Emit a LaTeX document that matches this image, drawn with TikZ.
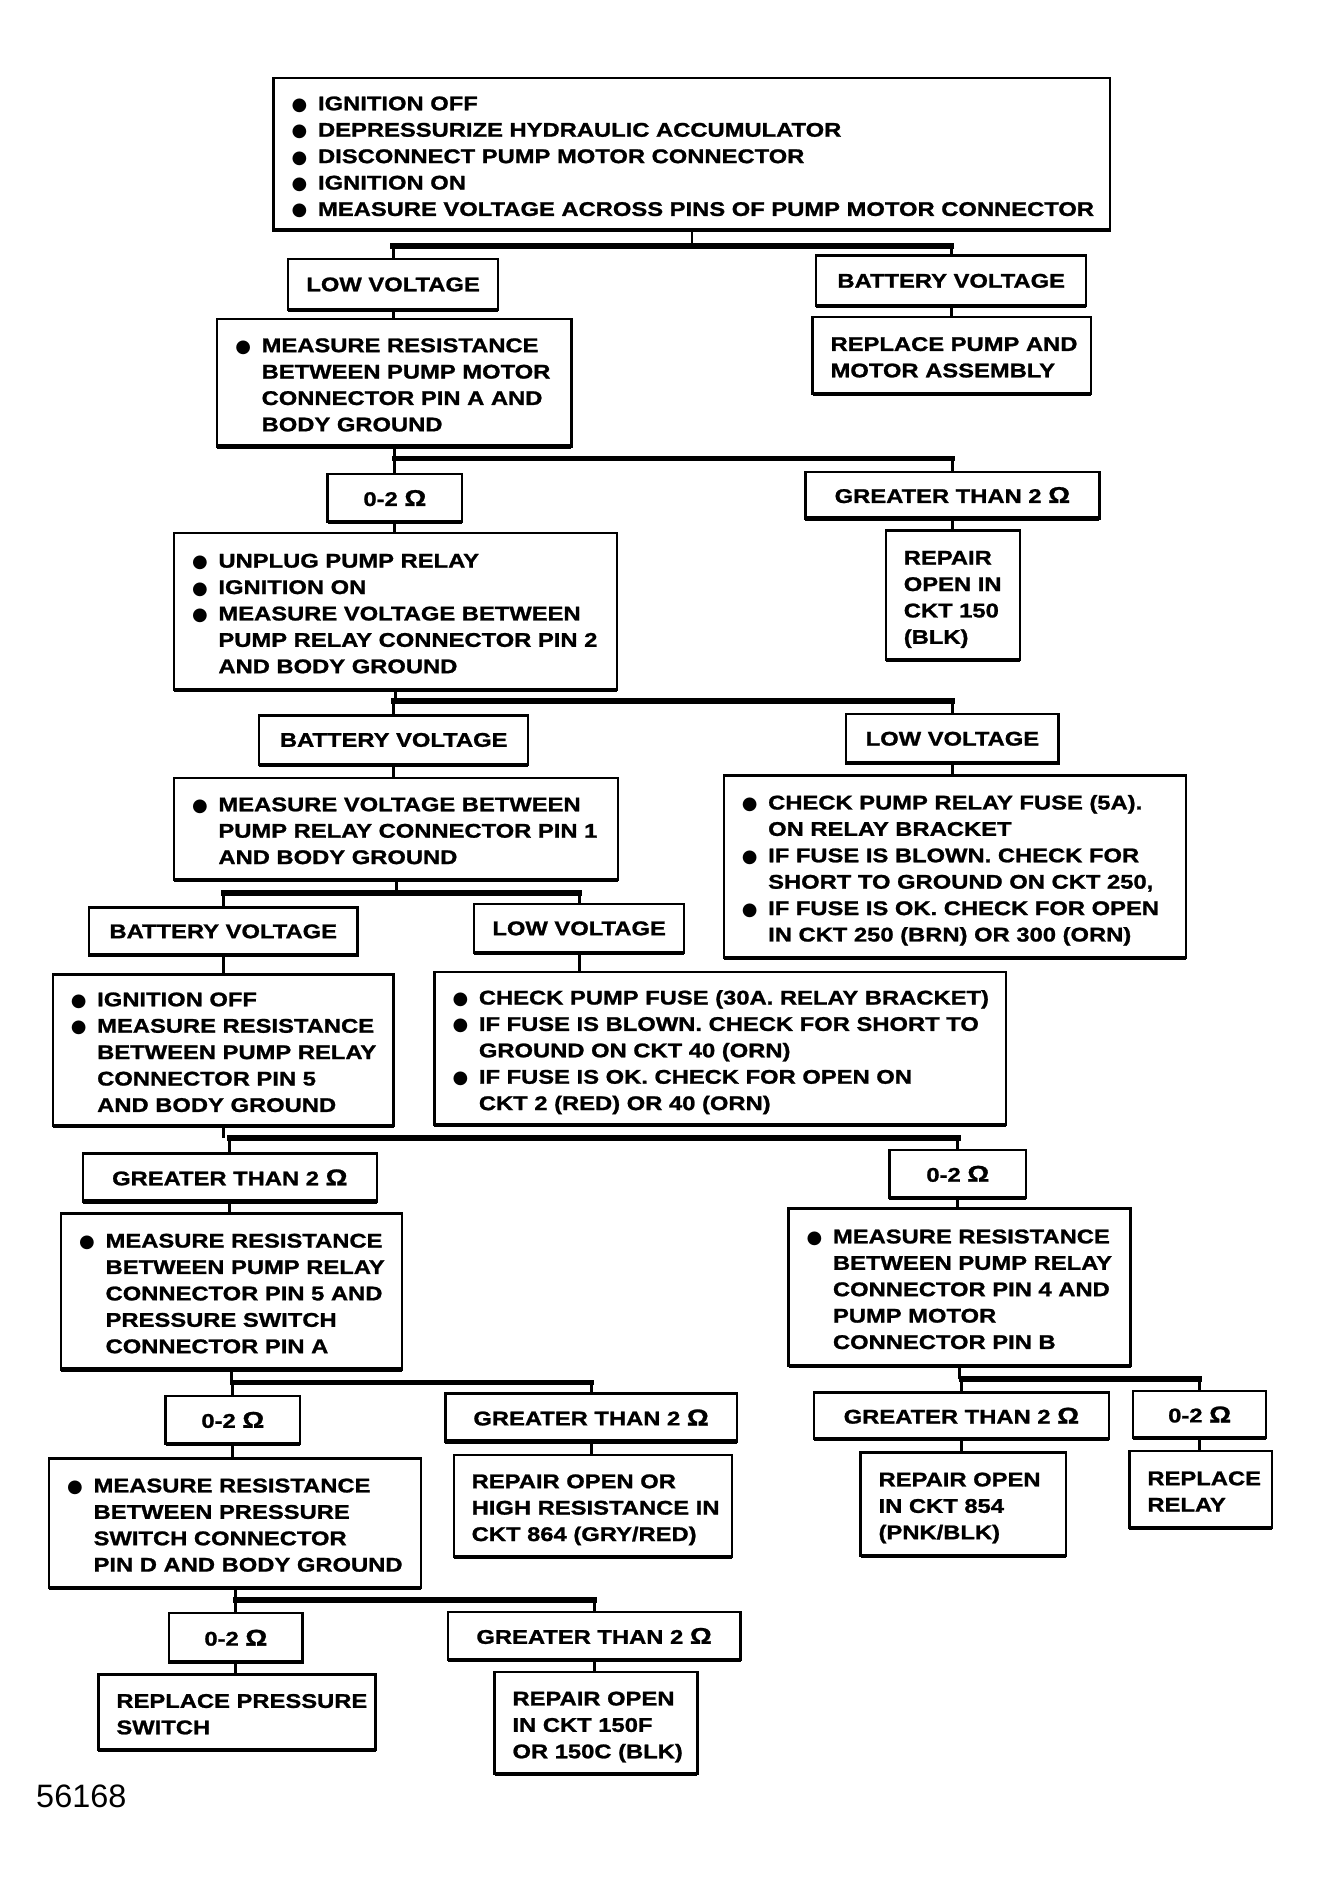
\documentclass[tikz,border=0pt]{standalone}
\usepackage{fontspec}
\setmainfont{Liberation Sans}[FakeStretch=1.2, BoldFeatures={FakeBold=1.2}]
\newfontfamily\plainf{Liberation Sans}
\newfontfamily\symf{DejaVu Sans}
\usetikzlibrary{calc}
\newcommand\bul{\makebox[22pt][l]{\symf\fontsize{15}{22}\selectfont ●}}
\newcommand\ohm{{\fontsize{19}{22}\selectfont Ω}}
\tikzset{
  box/.style={draw, line width=2pt, outer sep=0pt, inner xsep=15pt, inner ysep=0pt,
    font=\bfseries\fontsize{16.5}{22}\selectfont, fill=white},
  vline/.style={line width=2.4pt},
  bar/.style={line width=4.5pt, line cap=rect},
  heavy/.style={line width=3.4pt},
  numlabel/.style={font=\plainf\fontsize{27}{30}\selectfont, inner sep=0pt, anchor=west}
}
% text box: name, x1, y1, x2, y2, tabular rows
\newcommand\bx[6]{%
  \pgfmathsetmacro\bw{#4-#2}%
  \pgfmathsetmacro\bh{#5-#3}%
  \pgfmathsetmacro\tw{#4-#2-30}%
  \node[box,anchor=north west,minimum width=\bw pt,minimum height=\bh pt] (#1) at (#2,#3)
    {\raisebox{-3pt}[\height][\depth]{\makebox[\tw pt][l]{\begin{tabular}{@{}l@{}l@{}}#6\end{tabular}}}};}
% label box: name, x1, y1, x2, y2, text
\newcommand\lb[6]{%
  \pgfmathsetmacro\bw{#4-#2}%
  \pgfmathsetmacro\bh{#5-#3}%
  \node[box,minimum width=\bw pt,minimum height=\bh pt] (#1) at ({(#2+#4)/2},{(#3+#5)/2}) {#6};}
% fork: junction name, parent, bar y, left child, right child
\newcommand\fork[5]{%
  \coordinate (#1) at (0,#3);
  \draw[vline] (#2.south) -- (#2.south |- #1);
  \draw[bar] (#4.north |- #1) -- (#5.north |- #1);
  \draw[vline] (#4.north |- #1) -- (#4.north);
  \draw[vline] (#5.north |- #1) -- (#5.north);}
\newcommand\link[2]{\draw[vline] (#1.south) -- (#1.south |- #2.north);}
\begin{document}
\begin{tikzpicture}[x=1pt,y=-1pt]
\fill[white] (0,0) rectangle (1100,1578);
\useasboundingbox (0,0) rectangle (1100,1578);

\bx{top}{228}{65}{925}{192}{\bul & IGNITION OFF\\ \bul & DEPRESSURIZE HYDRAULIC ACCUMULATOR\\ \bul & DISCONNECT PUMP MOTOR CONNECTOR\\ \bul & IGNITION ON\\ \bul & MEASURE VOLTAGE ACROSS PINS OF PUMP MOTOR CONNECTOR}
\lb{lv1}{240}{216}{415}{258}{LOW VOLTAGE}
\lb{bv1}{680}{213}{905}{255}{BATTERY VOLTAGE}
\bx{m1}{181}{266}{476}{372}{\bul & MEASURE RESISTANCE\\ & BETWEEN PUMP MOTOR\\ & CONNECTOR PIN A AND\\ & BODY GROUND}
\bx{rp}{677}{264}{909}{328}{& REPLACE PUMP AND\\ & MOTOR ASSEMBLY}
\lb{o1}{273}{395}{385}{435}{0-2 \ohm}
\lb{g1}{671}{393}{916}{432}{GREATER THAN 2 \ohm}
\bx{m2}{145}{444}{514}{575}{\bul & UNPLUG PUMP RELAY\\ \bul & IGNITION ON\\ \bul & MEASURE VOLTAGE BETWEEN\\ & PUMP RELAY CONNECTOR PIN 2\\ & AND BODY GROUND}
\bx{r150}{738}{442}{850}{550}{& REPAIR\\ & OPEN IN\\ & CKT 150\\ & (BLK)}
\lb{bv2}{216}{596}{440}{637}{BATTERY VOLTAGE}
\lb{lv2}{705}{595}{882}{636}{LOW VOLTAGE}
\bx{m3}{145}{648}{515}{733}{\bul & MEASURE VOLTAGE BETWEEN\\ & PUMP RELAY CONNECTOR PIN 1\\ & AND BODY GROUND}
\bx{cf1}{603}{646}{988}{798}{\bul & CHECK PUMP RELAY FUSE (5A).\\ & ON RELAY BRACKET\\ \bul & IF FUSE IS BLOWN. CHECK FOR\\ & SHORT TO GROUND ON CKT 250,\\ \bul & IF FUSE IS OK. CHECK FOR OPEN\\ & IN CKT 250 (BRN) OR 300 (ORN)}
\lb{bv3}{74}{756}{298}{796}{BATTERY VOLTAGE}
\lb{lv3}{395}{753}{570}{794}{LOW VOLTAGE}
\bx{m4}{44}{812}{328}{938}{\bul & IGNITION OFF\\ \bul & MEASURE RESISTANCE\\ & BETWEEN PUMP RELAY\\ & CONNECTOR PIN 5\\ & AND BODY GROUND}
\bx{cf2}{362}{810}{838}{937}{\bul & CHECK PUMP FUSE (30A. RELAY BRACKET)\\ \bul & IF FUSE IS BLOWN. CHECK FOR SHORT TO\\ & GROUND ON CKT 40 (ORN)\\ \bul & IF FUSE IS OK. CHECK FOR OPEN ON\\ & CKT 2 (RED) OR 40 (ORN)}
\lb{g2}{69}{961}{314}{1001}{GREATER THAN 2 \ohm}
\lb{o2}{741}{958}{855}{998}{0-2 \ohm}
\bx{m5}{51}{1011}{335}{1141}{\bul & MEASURE RESISTANCE\\ & BETWEEN PUMP RELAY\\ & CONNECTOR PIN 5 AND\\ & PRESSURE SWITCH\\ & CONNECTOR PIN A}
\bx{m6}{657}{1007}{942}{1138}{\bul & MEASURE RESISTANCE\\ & BETWEEN PUMP RELAY\\ & CONNECTOR PIN 4 AND\\ & PUMP MOTOR\\ & CONNECTOR PIN B}
\lb{o3}{138}{1163}{250}{1203}{0-2 \ohm}
\lb{g3}{371}{1161}{614}{1201}{GREATER THAN 2 \ohm}
\lb{g4}{678}{1160}{924}{1199}{GREATER THAN 2 \ohm}
\lb{o4}{944}{1159}{1055}{1198}{0-2 \ohm}
\bx{m7}{41}{1215}{351}{1323}{\bul & MEASURE RESISTANCE\\ & BETWEEN PRESSURE\\ & SWITCH CONNECTOR\\ & PIN D AND BODY GROUND}
\bx{r864}{378}{1212}{610}{1297}{& REPAIR OPEN OR\\ & HIGH RESISTANCE IN\\ & CKT 864 (GRY/RED)}
\bx{r854}{717}{1210}{888}{1296}{& REPAIR OPEN\\ & IN CKT 854\\ & (PNK/BLK)}
\bx{rr}{941}{1209}{1060}{1273}{& REPLACE\\ & RELAY}
\lb{o5}{141}{1344}{252}{1385}{0-2 \ohm}
\lb{g5}{373}{1343}{617}{1383}{GREATER THAN 2 \ohm}
\bx{rps}{82}{1395}{313}{1458}{& REPLACE PRESSURE\\ & SWITCH}
\bx{rcf}{412}{1393}{581}{1478}{& REPAIR OPEN\\ & IN CKT 150F\\ & OR 150C (BLK)}
\node[numlabel] (fig) at (30,1497) {56168};

% heavier bottom edges
\foreach \n in {top,lv1,bv1,m1,rp,o1,g1,m2,r150,bv2,lv2,m3,cf1,bv3,lv3,m4,cf2,g2,o2,m5,m6,o3,g3,g4,o4,m7,r864,r854,rr,o5,g5,rps,rcf}
  \draw[heavy] (\n.south west) -- (\n.south east);

% connectors
\fork{j1}{top}{205}{lv1}{bv1}
\link{lv1}{m1}
\link{bv1}{rp}
\fork{j2}{m1}{382}{o1}{g1}
\link{o1}{m2}
\link{g1}{r150}
\fork{j3}{m2}{584}{bv2}{lv2}
\link{bv2}{m3}
\link{lv2}{cf1}
\fork{j4}{m3}{744}{bv3}{lv3}
\link{bv3}{m4}
\link{lv3}{cf2}
\fork{j5}{m4}{948}{g2}{o2}
\link{g2}{m5}
\link{o2}{m6}
\fork{j6}{m5}{1152}{o3}{g3}
\fork{j7}{m6}{1149}{g4}{o4}
\link{o3}{m7}
\link{g3}{r864}
\link{g4}{r854}
\link{o4}{rr}
\fork{j8}{m7}{1333}{o5}{g5}
\link{o5}{rps}
\link{g5}{rcf}
\end{tikzpicture}
\end{document}
